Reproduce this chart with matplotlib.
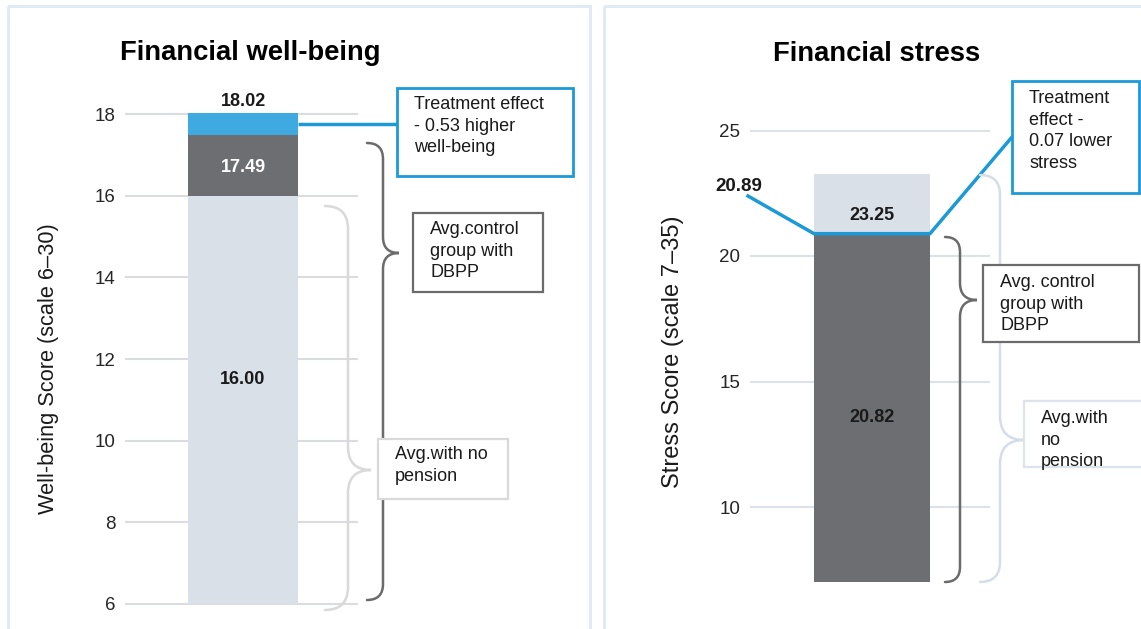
import matplotlib
matplotlib.use("Agg")
import matplotlib.pyplot as plt
from matplotlib.patches import Rectangle, PathPatch
from matplotlib.path import Path
from matplotlib.transforms import Affine2D

plt.rcParams['font.family'] = ['Liberation Sans', 'DejaVu Sans']

# ---- data ----
wb_ticks = [6, 8, 10, 12, 14, 16, 18]
wb_base = 6.0
wb_no_pension = 16.00
wb_control = 17.49
wb_treatment = 18.02

st_ticks = [10, 15, 20, 25]
st_base = 7.0
st_no_pension = 23.25
st_control = 20.82
st_treatment = 20.89

W, H = 1141, 629
DARK = '#6d6e71'
LIGHT = '#d9e0e8'
BLUE_SEG = '#3eaae0'
BLUE_LINE = '#1b9ad6'
GRID = '#dadcdf'
TXT = '#1a1a1a'
VAL_FS = 13
BOX_FS = 13

fig = plt.figure(figsize=(W / 100, H / 100), dpi=100)
px = Affine2D().scale(1 / W, -1 / H).translate(0, 1) + fig.transFigure


def axes_px(left, right, top, bottom):
    return fig.add_axes([left / W, 1 - bottom / H, (right - left) / W, (bottom - top) / H])


def box(x0, y0, x1, y1, color, lw, lines, tx, ty, dy=21.7, size=BOX_FS):
    fig.add_artist(Rectangle((x0, y0), x1 - x0, y1 - y0, transform=px,
                             facecolor='white', edgecolor=color, lw=lw, zorder=5))
    for i, s in enumerate(lines):
        fig.text(tx, ty + i * dy, s, transform=px, fontsize=size, color=TXT,
                 va='top', ha='left', zorder=6)


def brace(xv, top, tip, bot, r, color, lw=1.8, rtip=None):
    rt = r if rtip is None else rtip
    verts = [(xv - r, top), (xv, top), (xv, top + r),
             (xv, tip - rt), (xv, tip), (xv + rt, tip),
             (xv, tip), (xv, tip + rt),
             (xv, bot - r), (xv, bot), (xv - r, bot)]
    codes = [Path.MOVETO, Path.CURVE3, Path.CURVE3,
             Path.LINETO, Path.CURVE3, Path.CURVE3,
             Path.CURVE3, Path.CURVE3,
             Path.LINETO, Path.CURVE3, Path.CURVE3]
    fig.add_artist(PathPatch(Path(verts, codes), transform=px, facecolor='none',
                             edgecolor=color, lw=lw, capstyle='round', zorder=4))


def style_axis(ax, ticks, gx0, gx1, gcolor):
    for s in ax.spines.values():
        s.set_visible(False)
    ax.set_xticks([])
    ax.set_yticks(ticks)
    ax.set_yticklabels([str(t) for t in ticks], fontsize=13.5, color='#262626')
    ax.tick_params(axis='y', length=0, pad=7)
    ax.hlines(ticks, gx0, gx1, colors=gcolor, lw=1.5, zorder=0, clip_on=False)
    ax.patch.set_alpha(0)


# panel frames
fig.add_artist(Rectangle((8, 6), 582, 640, transform=px, facecolor='none',
                         edgecolor='#dde9f5', lw=2))
fig.add_artist(Rectangle((604, 6), 560, 640, transform=px, facecolor='none',
                         edgecolor='#dde9f5', lw=2))

# ================= Financial well-being =================
ax1 = axes_px(125, 590, 60, 629)
k1 = 40.83
ax1.set_ylim(wb_base - (629 - 604) / k1, wb_base + (604 - 60) / k1)
ax1.set_xlim((125 - 243) / 110, (590 - 243) / 110)
style_axis(ax1, wb_ticks, ax1.get_xlim()[0], (358 - 243) / 110, GRID)

ax1.bar(0, wb_no_pension - wb_base, bottom=wb_base, width=1, color=LIGHT, zorder=2)
ax1.bar(0, wb_control - wb_no_pension, bottom=wb_no_pension, width=1, color=DARK, zorder=2)
ax1.bar(0, wb_treatment - wb_control, bottom=wb_control, width=1, color=BLUE_SEG, zorder=2)

ax1.annotate(f'{wb_treatment:.2f}', (0, wb_treatment), xytext=(0, 2),
             textcoords='offset points', ha='center', va='bottom',
             fontsize=VAL_FS, fontweight='bold', color=TXT)
ax1.text(0, (wb_no_pension + wb_control) / 2 - 0.05, f'{wb_control:.2f}', ha='center',
         va='center', fontsize=VAL_FS, fontweight='bold', color='white', zorder=3)
ax1.text(0, 11.5, f'{wb_no_pension:.2f}', ha='center', va='center',
         fontsize=VAL_FS, fontweight='bold', color=TXT, zorder=3)

mid = (wb_control + wb_treatment) / 2
ax1.plot([0.5, (397 - 243) / 110], [mid, mid], color=BLUE_LINE, lw=2.5,
         clip_on=False, zorder=4, solid_capstyle='butt')

ax1.set_ylabel('Well-being Score (scale 6–30)', fontsize=15.7, color=TXT)
ax1.yaxis.set_label_coords((59 - 125) / 465, 0.5 - (369 - 344.5) / 569)

fig.text(250 / W, 1 - 53 / H, 'Financial well-being', ha='center', va='center',
         fontsize=19.7, fontweight='bold', color='black')

brace(348, 206, 470, 610, 23, '#d9d9d9')
brace(383, 143, 253, 600, 16, '#6b6b6b')
box(397, 88, 573, 176, '#1b9ad6', 2, ['Treatment effect', '- 0.53 higher', 'well-being'], 414, 96)
box(413, 213, 543, 292, '#6b6b6b', 1.6, ['Avg.control', 'group with', 'DBPP'], 430, 221)
box(378, 439, 508, 499, '#d9d9d9', 1.6, ['Avg.with no', 'pension'], 395, 446)

# ================= Financial stress =================
ax2 = axes_px(750, 1141, 60, 629)
k2 = 25.1
ax2.set_ylim(20 - (629 - 256) / k2, 20 + (256 - 60) / k2)
ax2.set_xlim((750 - 872) / 116, (1141 - 872) / 116)
style_axis(ax2, st_ticks, ax2.get_xlim()[0], (990 - 872) / 116, '#dde2e8')

ax2.bar(0, st_no_pension - st_base, bottom=st_base, width=1, color=LIGHT, zorder=2)
ax2.bar(0, st_control - st_base, bottom=st_base, width=1, color=DARK, zorder=2)

ax2.text(0, 21.63, f'{st_no_pension:.2f}', ha='center', va='center',
         fontsize=VAL_FS, fontweight='bold', color=TXT, zorder=3)
ax2.text(0, 13.55, f'{st_control:.2f}', ha='center', va='center',
         fontsize=VAL_FS, fontweight='bold', color=TXT, zorder=3)

# treatment line: callout from label, across bar top, up to the box
lx0 = (748 - 872) / 116
lx1 = (1012 - 872) / 116
ax2.plot([lx0, -0.5, 0.5, lx1], [22.39, st_treatment, st_treatment, 24.74],
         color=BLUE_LINE, lw=2.5, clip_on=False, zorder=4, solid_joinstyle='miter')
ax2.text((739 - 872) / 116, 22.75, f'{st_treatment:.2f}', ha='center', va='center',
         fontsize=13.5, fontweight='bold', color=TXT, clip_on=False)

ax2.set_ylabel('Stress Score (scale 7–35)', fontsize=17, color=TXT)
ax2.yaxis.set_label_coords((684 - 750) / 391, 0.5 - (352 - 344.5) / 569)

fig.text(877 / W, 1 - 54 / H, 'Financial stress', ha='center', va='center',
         fontsize=19.7, fontweight='bold', color='black')

brace(1000, 175, 440, 582, 20, '#d5dde8', rtip=24)
brace(960, 237, 300, 582, 15, '#6b6b6b', rtip=17)
box(1012, 81, 1139, 193, '#1b9ad6', 2, ['Treatment', 'effect -', '0.07 lower', 'stress'], 1029, 90)
box(983, 265, 1139, 342, '#6b6b6b', 1.6, ['Avg. control', 'group with', 'DBPP'], 1000, 274)
box(1024, 401, 1160, 467, '#dde3ea', 1.6, ['Avg.with', 'no', 'pension'], 1041, 410)

fig.savefig('out.png', dpi=100, facecolor='white')
